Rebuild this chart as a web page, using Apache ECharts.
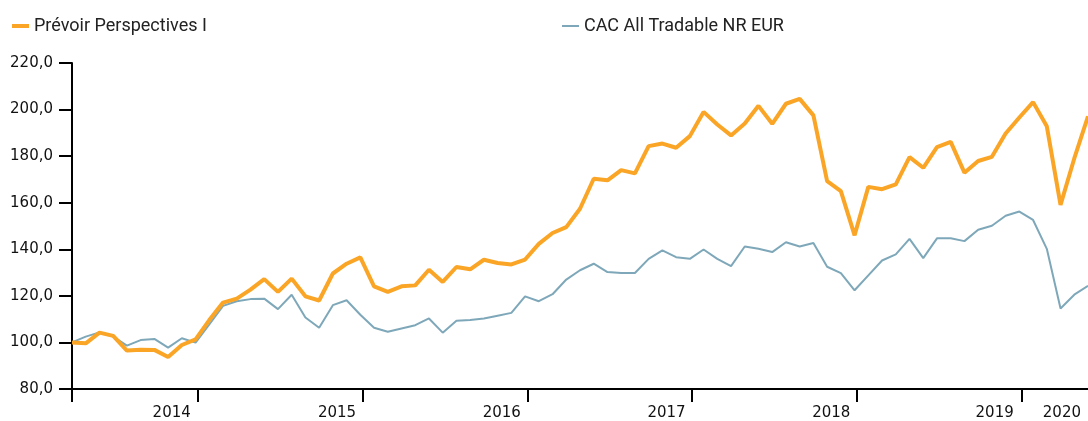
<!DOCTYPE html>
<html>
<head>
<meta charset="utf-8">
<script src="https://cdn.jsdelivr.net/npm/echarts@6/dist/echarts.min.js"></script>
<style>
  html, body { margin: 0; padding: 0; background: #fff; }
  #chart { width: 1088px; height: 421px; }
</style>
</head>
<body>
<div id="chart"></div>
<script>
// monthly values, index 0 = first month (spring 2013)
const prevoir = [
  100.0, 99.6, 104.2, 102.8, 96.5, 96.9, 96.8, 93.7, 98.9, 101.3,
  109.6, 117.1, 118.8, 122.7, 127.2, 121.7, 127.4, 119.8, 118.0, 129.6,
  133.8, 136.5, 124.1, 121.7, 124.1, 124.5, 131.2, 126.0, 132.4, 131.4,
  135.5, 134.1, 133.5, 135.6, 142.3, 147.0, 149.5, 157.4, 170.3, 169.6,
  174.0, 172.6, 184.3, 185.4, 183.6, 188.6, 199.0, 193.6, 188.9, 194.0,
  201.6, 193.9, 202.5, 204.6, 197.5, 169.3, 165.0, 146.0, 166.8, 165.8,
  167.9, 179.6, 175.0, 183.9, 186.1, 172.9, 177.9, 179.7, 189.7, 196.6,
  203.2, 192.8, 159.1, 179.0, 197.1
];
const cac = [
  100.0, 102.5, 104.3, 102.5, 98.6, 101.0, 101.5, 97.8, 101.8, 99.9,
  107.7, 115.7, 117.7, 118.6, 118.8, 114.3, 120.5, 110.7, 106.3, 116.0,
  118.1, 111.9, 106.3, 104.6, 106.0, 107.4, 110.3, 104.2, 109.3, 109.6,
  110.3, 111.5, 112.7, 119.8, 117.7, 120.7, 127.0, 131.0, 133.8, 130.2,
  129.8, 129.8, 135.9, 139.5, 136.6, 135.9, 139.9, 135.9, 132.8, 141.2,
  140.2, 138.8, 143.0, 141.2, 142.7, 132.5, 129.8, 122.4, 128.8, 135.2,
  137.8, 144.5, 136.2, 144.7, 144.7, 143.5, 148.4, 150.1, 154.4, 156.2,
  152.6, 140.2, 114.6, 120.5, 124.3
];

// x axis: year ticks (start of each year) and year labels, in month index units
const yearTicks = [0, 9.17, 21.17, 33.17, 45.17, 57.17, 69.17];
const yearLabels = ['2014', '2015', '2016', '2017', '2018', '2019', '2020'];
const yearLabelPos = [7.26, 19.3, 31.3, 43.3, 55.3, 67.2, 72.1];

const names = ['Prévoir Perspectives I', 'CAC All Tradable NR EUR'];
const colors = ['#FAA525', '#7EA8B9'];

const chart = echarts.init(document.getElementById('chart'));

const toPairs = arr => arr.map((v, i) => [i, v]);

option = {
  animation: false,
  grid: { left: 72, right: 0, top: 63, bottom: 30 },
  legend: [
    {
      data: [names[0]],
      left: 7, top: 12,
      icon: 'rect',
      itemWidth: 17, itemHeight: 4,
      textStyle: { fontFamily: 'Roboto', fontSize: 18, color: '#222' }
    },
    {
      data: [names[1]],
      left: 557, top: 12,
      icon: 'rect',
      itemWidth: 17, itemHeight: 2,
      textStyle: { fontFamily: 'Roboto', fontSize: 18, color: '#222' }
    }
  ],
  xAxis: {
    type: 'value',
    min: 0,
    max: 74,
    splitLine: { show: false },
    axisLine: { lineStyle: { color: '#000', width: 2 } },
    axisTick: {
      show: true,
      length: 13,
      customValues: yearTicks,
      lineStyle: { color: '#000', width: 2 }
    },
    axisLabel: {
      customValues: yearLabelPos,
      margin: 17,
      fontFamily: 'DejaVu Sans',
      fontSize: 15,
      color: '#111',
      formatter: function (v) {
        let best = 0;
        yearLabelPos.forEach((p, k) => {
          if (Math.abs(p - v) < Math.abs(yearLabelPos[best] - v)) best = k;
        });
        return yearLabels[best];
      }
    }
  },
  yAxis: {
    type: 'value',
    min: 80,
    max: 220,
    interval: 20,
    splitLine: { show: false },
    axisLine: { show: true, lineStyle: { color: '#000', width: 2 } },
    axisTick: { show: true, length: 13, lineStyle: { color: '#000', width: 2 } },
    axisLabel: {
      margin: 19,
      fontFamily: 'DejaVu Sans',
      fontSize: 15,
      color: '#111',
      formatter: v => v.toFixed(1).replace('.', ',')
    }
  },
  series: [
    {
      name: names[0],
      type: 'line',
      data: toPairs(prevoir),
      showSymbol: false,
      z: 3,
      color: colors[0],
      lineStyle: { color: colors[0], width: 4 }
    },
    {
      name: names[1],
      type: 'line',
      data: toPairs(cac),
      showSymbol: false,
      z: 2,
      color: colors[1],
      lineStyle: { color: colors[1], width: 2 }
    }
  ]
};
chart.setOption(option);
</script>
</body>
</html>
